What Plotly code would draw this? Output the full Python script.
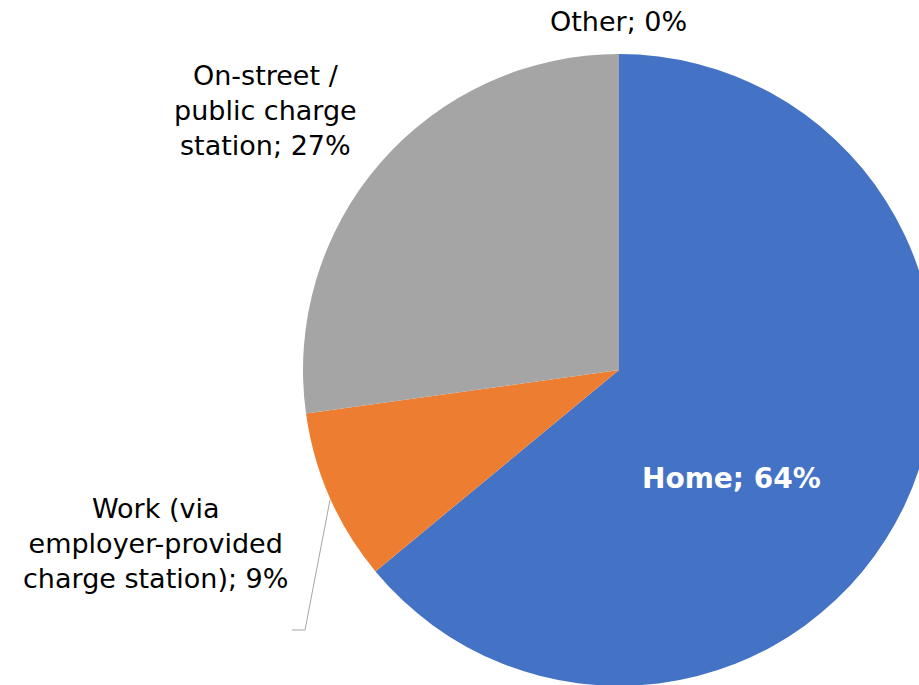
import plotly.graph_objects as go

# Data
categories = ["Home", "Work (via employer-provided charge station)", "On-street / public charge station", "Other"]
label_lines = ["Home", "Work (via<br>employer-provided<br>charge station)", "On-street /<br>public charge<br>station", "Other"]
values = [64.0, 8.8, 27.2, 0.0]
pct_labels = ["64%", "9%", "27%", "0%"]
colors = ["#4472C4", "#ED7D31", "#A5A5A5", "#FFC000"]

W, H = 940, 690

def px(x):
    return x / W

def py(y):
    return 1 - y / H

fig = go.Figure(go.Pie(
    labels=categories,
    values=values,
    sort=False,
    direction="clockwise",
    rotation=0,
    marker=dict(colors=colors, line=dict(width=0)),
    textinfo="none",
    hoverinfo="label+percent",
    showlegend=False,
    domain=dict(x=[px(302), px(936)], y=[py(686), py(54)]),
))

font = "DejaVu Sans, Verdana, sans-serif"
label_pos = [(731, 478), (155, 543), (265, 110), (618, 21)]
for i, (lx, ly) in enumerate(label_pos):
    txt = f"{label_lines[i]}; {pct_labels[i]}"
    if i == 0:
        txt = f"<b>{txt}</b>"
        fcolor = "white"
        fsize = 28
    else:
        fcolor = "#000000"
        fsize = 27
    fig.add_annotation(
        x=px(lx), y=py(ly), xref="paper", yref="paper",
        text=txt, showarrow=False, align="center",
        xanchor="center", yanchor="middle",
        font=dict(family=font, size=fsize, color=fcolor),
    )

# leader line for Work label
fig.add_shape(
    type="path",
    path=f"M {px(330)} {py(500)} L {px(305)} {py(630)} L {px(292)} {py(630)}",
    xref="paper", yref="paper",
    line=dict(color="#A6A6A6", width=1),
)

fig.update_layout(
    width=W, height=H,
    margin=dict(l=0, r=0, t=0, b=0),
    paper_bgcolor="white",
    plot_bgcolor="white",
)

fig.write_html(
    "out.html",
    config={"displayModeBar": False},
    post_script="document.body.style.margin='0';document.body.style.overflow='hidden';document.documentElement.style.overflow='hidden';",
)
